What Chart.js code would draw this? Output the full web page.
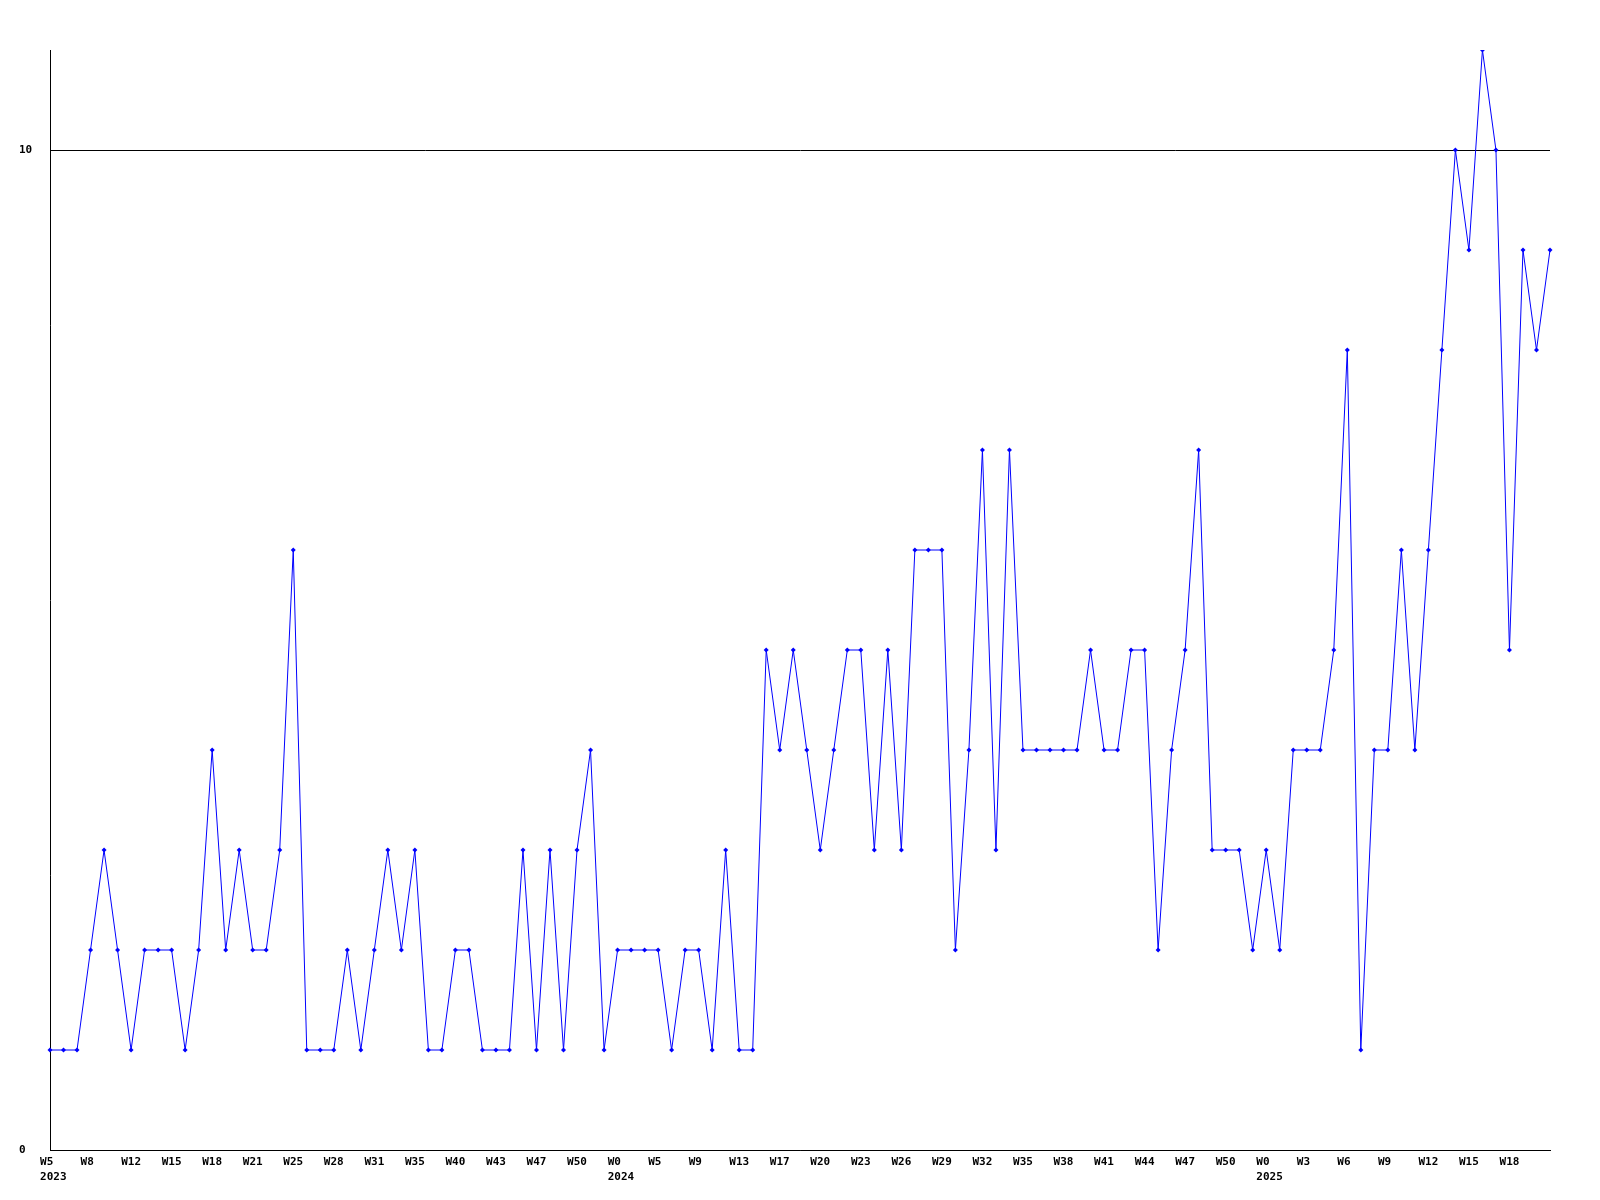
<!DOCTYPE html>
<html>
<head>
<meta charset="utf-8">
<title>Weekly count</title>
<script src="https://cdn.jsdelivr.net/npm/chart.js@4/dist/chart.umd.min.js"></script>
<style>
  html, body { margin: 0; padding: 0; background: #fff; }
  canvas { display: block; }
</style>
</head>
<body>
<canvas id="weeklyChart" width="1600" height="1200"></canvas>
<script>
// weekly values, one per point
const values = [
  1, 1, 1, 2, 3, 2, 1, 2, 2, 2,
  1, 2, 4, 2, 3, 2, 2, 3, 6, 1,
  1, 1, 2, 1, 2, 3, 2, 3, 1, 1,
  2, 2, 1, 1, 1, 3, 1, 3, 1, 3,
  4, 1, 2, 2, 2, 2, 1, 2, 2, 1,
  3, 1, 1, 5, 4, 5, 4, 3, 4, 5,
  5, 3, 5, 3, 6, 6, 6, 2, 4, 7,
  3, 7, 4, 4, 4, 4, 4, 5, 4, 4,
  5, 5, 2, 4, 5, 7, 3, 3, 3, 2,
  3, 2, 4, 4, 4, 5, 8, 1, 4, 4,
  6, 4, 6, 8, 10, 9, 11, 10, 5, 9,
  8, 9
];

// x tick labels, one every third point
const tickEvery = 3;
const tickLabels = [
  'W5', 'W8', 'W12', 'W15', 'W18', 'W21', 'W25', 'W28', 'W31', 'W35',
  'W40', 'W43', 'W47', 'W50', 'W0', 'W5', 'W9', 'W13', 'W17', 'W20',
  'W23', 'W26', 'W29', 'W32', 'W35', 'W38', 'W41', 'W44', 'W47', 'W50',
  'W0', 'W3', 'W6', 'W9', 'W12', 'W15', 'W18'
];

// year shown under the week label at these point indexes
const yearIndexes = [0, 42, 90];
const yearLabels = ['2023', '2024', '2025'];

const yTicks = [0, 10];
const yMax = 11;

// week labels are laid out 3 chars wide, so short ones sit a little left
const labels = values.map((v, i) => {
  const t = i % tickEvery === 0 ? tickLabels[i / tickEvery] : undefined;
  return t ? t.padEnd(3, ' ') : '';
});

const FONT = { family: '"DejaVu Sans Mono", monospace', size: 11, weight: 'bold' };

// draws the year line under the first week of each year, left aligned with the week label
const yearPlugin = {
  id: 'yearLabels',
  afterDraw(chart) {
    const xScale = chart.scales.x;
    const ctx = chart.ctx;
    ctx.save();
    ctx.font = `bold ${FONT.size}px ${FONT.family}`;
    ctx.fillStyle = '#000';
    ctx.textBaseline = 'middle';
    ctx.textAlign = 'left';
    yearIndexes.forEach((idx, k) => {
      const x = xScale.getPixelForValue(idx);
      const w = ctx.measureText(labels[idx]).width;
      ctx.fillText(yearLabels[k], x - w / 2, xScale.top + 27);
    });
    ctx.restore();
  }
};

new Chart(document.getElementById('weeklyChart'), {
  type: 'line',
  data: {
    labels,
    datasets: [{
      data: values,
      borderColor: '#0000ff',
      backgroundColor: '#0000ff',
      borderWidth: 1,
      pointStyle: 'rectRot',
      pointRadius: 2.5,
      pointBorderWidth: 0,
      pointBackgroundColor: '#0000ff',
      tension: 0,
      fill: false
    }]
  },
  options: {
    responsive: false,
    animation: false,
    devicePixelRatio: 1,
    layout: { padding: { top: 50, right: 50, left: 19, bottom: 0 } },
    plugins: {
      legend: { display: false },
      tooltip: { enabled: false }
    },
    scales: {
      x: {
        offset: false,
        grid: { display: false, drawTicks: false },
        border: { display: true, color: '#000', width: 1 },
        ticks: {
          autoSkip: false,
          maxRotation: 0,
          minRotation: 0,
          padding: 6,
          color: '#000',
          font: FONT
        },
        afterFit: scale => { scale.height = 50; }
      },
      y: {
        min: 0,
        max: yMax,
        grid: { display: true, color: '#000', lineWidth: 1, drawTicks: false },
        border: { display: true, color: '#000', width: 1 },
        ticks: {
          crossAlign: 'far',
          padding: 0,
          color: '#000',
          font: FONT
        },
        afterBuildTicks: scale => { scale.ticks = yTicks.map(v => ({ value: v })); },
        afterFit: scale => { scale.width = 31; }
      }
    }
  },
  plugins: [yearPlugin]
});
</script>
</body>
</html>
